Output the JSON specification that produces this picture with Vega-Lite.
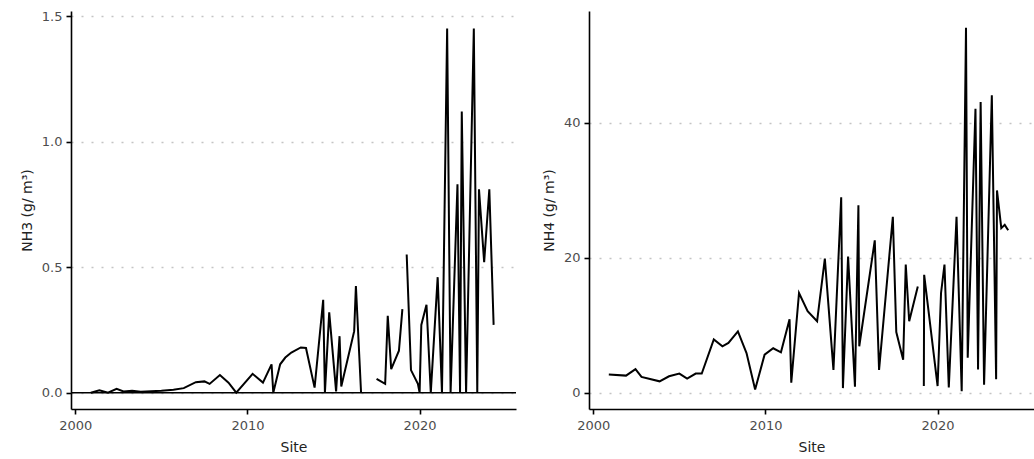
{
  "$schema": "https://vega.github.io/schema/vega-lite/v6.json",
  "padding": {"left": 20, "top": 10, "right": 0, "bottom": 0},
  "background": "white",
  "spacing": 25,
  "config": {
    "view": {"stroke": null},
    "font": "DejaVu Sans",
    "axis": {
      "domainColor": "#000000",
      "domainWidth": 1.6,
      "tickColor": "#000000",
      "tickWidth": 1.6,
      "tickSize": 5,
      "labelColor": "#4d4d4d",
      "labelFontSize": 13,
      "labelFont": "DejaVu Sans",
      "labelPadding": 4,
      "titleFont": "DejaVu Sans",
      "titleFontSize": 14,
      "titleFontWeight": "normal",
      "titleColor": "#222222"
    },
    "axisX": {"grid": false, "labelPadding": 5, "titlePadding": 8, "labelFlush": false},
    "axisY": {"grid": true, "gridColor": "#c4c4c4", "gridDash": [2, 8], "gridWidth": 1.6, "titlePadding": 7}
  },
  "datasets": {
    "nh3": [
      {"year": 2000.9, "value": 0.0},
      {"year": 2001.4, "value": 0.01},
      {"year": 2001.9, "value": 0.0},
      {"year": 2002.4, "value": 0.015},
      {"year": 2002.8, "value": 0.005},
      {"year": 2003.3, "value": 0.008},
      {"year": 2003.8, "value": 0.004},
      {"year": 2004.4, "value": 0.006},
      {"year": 2005.0, "value": 0.008},
      {"year": 2005.7, "value": 0.012},
      {"year": 2006.3, "value": 0.018},
      {"year": 2007.0, "value": 0.042},
      {"year": 2007.5, "value": 0.045},
      {"year": 2007.8, "value": 0.035},
      {"year": 2008.4, "value": 0.07},
      {"year": 2008.9, "value": 0.04},
      {"year": 2009.35, "value": 0.0},
      {"year": 2010.3, "value": 0.075},
      {"year": 2010.9, "value": 0.04},
      {"year": 2011.4, "value": 0.113},
      {"year": 2011.5, "value": 0.0},
      {"year": 2011.9, "value": 0.113},
      {"year": 2012.2, "value": 0.14},
      {"year": 2012.55, "value": 0.16},
      {"year": 2013.1, "value": 0.18},
      {"year": 2013.4, "value": 0.178},
      {"year": 2013.9, "value": 0.02},
      {"year": 2014.4, "value": 0.37},
      {"year": 2014.5, "value": 0.0},
      {"year": 2014.75, "value": 0.32},
      {"year": 2015.15, "value": 0.005},
      {"year": 2015.35, "value": 0.225},
      {"year": 2015.45, "value": 0.025},
      {"year": 2016.2, "value": 0.245},
      {"year": 2016.3, "value": 0.425},
      {"year": 2016.6, "value": 0.0},
      {"year": 2017.0, "value": null},
      {"year": 2017.5, "value": 0.055},
      {"year": 2018.0, "value": 0.035},
      {"year": 2018.15, "value": 0.306},
      {"year": 2018.35, "value": 0.094},
      {"year": 2018.8, "value": 0.167},
      {"year": 2019.0, "value": 0.333},
      {"year": 2019.1, "value": null},
      {"year": 2019.25, "value": 0.55},
      {"year": 2019.5, "value": 0.09},
      {"year": 2019.9, "value": 0.035},
      {"year": 2020.0, "value": 0.0},
      {"year": 2020.1, "value": 0.27},
      {"year": 2020.4, "value": 0.35},
      {"year": 2020.65, "value": 0.0},
      {"year": 2021.05, "value": 0.46},
      {"year": 2021.3, "value": 0.0},
      {"year": 2021.6, "value": 1.45},
      {"year": 2021.8, "value": 0.0},
      {"year": 2022.2, "value": 0.83},
      {"year": 2022.35, "value": 0.0},
      {"year": 2022.45, "value": 1.12},
      {"year": 2022.7, "value": 0.0},
      {"year": 2023.15, "value": 1.45},
      {"year": 2023.35, "value": 0.0},
      {"year": 2023.45, "value": 0.81},
      {"year": 2023.75, "value": 0.52},
      {"year": 2024.05, "value": 0.81},
      {"year": 2024.3, "value": 0.27}
    ],
    "nh4": [
      {"year": 2000.9, "value": 2.7},
      {"year": 2001.9, "value": 2.55},
      {"year": 2002.45, "value": 3.5},
      {"year": 2002.8, "value": 2.35},
      {"year": 2003.85, "value": 1.7},
      {"year": 2004.4, "value": 2.45},
      {"year": 2005.0, "value": 2.85},
      {"year": 2005.45, "value": 2.1},
      {"year": 2005.95, "value": 2.85},
      {"year": 2006.3, "value": 2.85},
      {"year": 2007.0, "value": 7.9},
      {"year": 2007.5, "value": 6.9},
      {"year": 2007.85, "value": 7.4},
      {"year": 2008.4, "value": 9.1},
      {"year": 2008.9, "value": 5.9},
      {"year": 2009.4, "value": 0.5},
      {"year": 2009.95, "value": 5.65},
      {"year": 2010.45, "value": 6.6},
      {"year": 2010.9, "value": 6.0},
      {"year": 2011.4, "value": 10.9},
      {"year": 2011.5, "value": 1.5},
      {"year": 2011.95, "value": 14.8},
      {"year": 2012.45, "value": 12.1},
      {"year": 2013.0, "value": 10.6},
      {"year": 2013.45, "value": 19.9},
      {"year": 2013.95, "value": 3.4},
      {"year": 2014.4, "value": 29.0},
      {"year": 2014.5, "value": 0.7},
      {"year": 2014.8, "value": 20.2},
      {"year": 2015.2, "value": 0.9},
      {"year": 2015.4, "value": 27.8},
      {"year": 2015.45, "value": 6.9},
      {"year": 2016.35, "value": 22.6},
      {"year": 2016.6, "value": 3.4},
      {"year": 2017.4, "value": 26.1},
      {"year": 2017.6, "value": 9.0},
      {"year": 2018.0, "value": 4.9},
      {"year": 2018.15, "value": 19.0},
      {"year": 2018.35, "value": 10.6},
      {"year": 2018.85, "value": 15.75},
      {"year": 2019.0, "value": null},
      {"year": 2019.2, "value": 1.0},
      {"year": 2019.22, "value": 17.5},
      {"year": 2020.0, "value": 1.0},
      {"year": 2020.2, "value": 14.8},
      {"year": 2020.4, "value": 19.0},
      {"year": 2020.65, "value": 0.8},
      {"year": 2021.1, "value": 26.1},
      {"year": 2021.4, "value": 0.25},
      {"year": 2021.65, "value": 54.1},
      {"year": 2021.75, "value": 5.2},
      {"year": 2022.2, "value": 42.1},
      {"year": 2022.35, "value": 3.45},
      {"year": 2022.5, "value": 43.1},
      {"year": 2022.7, "value": 1.2},
      {"year": 2023.15, "value": 44.1},
      {"year": 2023.4, "value": 2.0},
      {"year": 2023.45, "value": 30.0},
      {"year": 2023.7, "value": 24.4},
      {"year": 2023.9, "value": 24.9},
      {"year": 2024.1, "value": 24.1}
    ],
    "zero": [{"level": 0}]
  },
  "hconcat": [
    {
      "width": 445,
      "height": 398,
      "layer": [
        {
          "data": {"name": "zero"},
          "mark": {"type": "rule", "color": "#000000", "strokeWidth": 1.6},
          "encoding": {"y": {"field": "level", "type": "quantitative"}}
        },
        {
          "data": {"name": "nh3"},
          "mark": {"type": "line", "color": "#000000", "strokeWidth": 2, "invalid": "break-paths-filter-domains"},
          "encoding": {
            "x": {"field": "year", "type": "quantitative", "scale": {"domain": [1999.75, 2025.6], "nice": false, "zero": false}, "axis": {"values": [2000, 2010, 2020], "format": "d", "title": "Site"}},
            "y": {"field": "value", "type": "quantitative", "scale": {"domain": [-0.065, 1.52], "nice": false, "zero": false}, "axis": {"values": [0, 0.5, 1, 1.5], "format": ".1f", "title": "NH3 (g/ m³)"}}
          }
        }
      ]
    },
    {
      "width": 445,
      "height": 398,
      "data": {"name": "nh4"},
      "mark": {"type": "line", "color": "#000000", "strokeWidth": 2, "invalid": "break-paths-filter-domains"},
      "encoding": {
        "x": {"field": "year", "type": "quantitative", "scale": {"domain": [1999.75, 2025.6], "nice": false, "zero": false}, "axis": {"values": [2000, 2010, 2020], "format": "d", "title": "Site"}},
        "y": {"field": "value", "type": "quantitative", "scale": {"domain": [-2.4, 56.6], "nice": false, "zero": false}, "axis": {"values": [0, 20, 40], "format": "d", "title": "NH4 (g/ m³)"}}
      }
    }
  ]
}
